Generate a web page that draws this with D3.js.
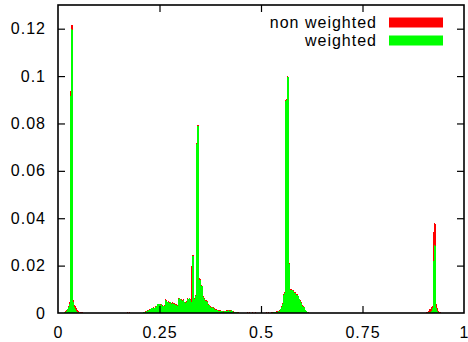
<!DOCTYPE html>
<html>
<head>
<meta charset="utf-8">
<script src="https://cdn.jsdelivr.net/npm/d3@7"></script>
<style>
  body { margin: 0; background: #fff; }
  svg text { font-family: "Liberation Sans", Arial, sans-serif; font-size: 16px; letter-spacing: 1px; fill: #000; }
</style>
</head>
<body>
<div id="app"></div>
<script>
// ----- Data -----
const binWidth = 0.0025;

const yTicks = [0, 0.02, 0.04, 0.06, 0.08, 0.1, 0.12];
const yTickLabels = ["0", "0.02", "0.04", "0.06", "0.08", "0.1", "0.12"];
const xTicks = [0, 0.25, 0.5, 0.75, 1];
const xTickLabels = ["0", "0.25", "0.5", "0.75", "1"];

const seriesNames = ["non weighted", "weighted"];
const seriesColors = ["#ff0000", "#00ff00"];

// peak near 0.03 (first bin index 5)
const peak1Start = 5;
const peak1Red = [0.0002,0.0004,0.0008,0.0012,0.0018,0.0028,0.0045,0.0938,0.1217,0.1215,0.0055,
    0.0035,0.0028,0.0022,0.0012,0.0008,0.0006,0.0005,0.0004,0.0003,0.0002];
const peak1Green = [0.0001,0.0003,0.0006,0.001,0.0016,0.0025,0.004,0.0917,0.1197,0.1195,0.0045,
    0.0025,0.0015,0.001,0.0006,0.0004,0.0003,0.0002,0.0001,0.0001,0];

// broad hump 0.21 - 0.45 with peak near 0.34 (first bin index 84)
const peak2Start = 84;
const peak2Red = [
    0.0004,0.0006,0.0008,0.001,0.0012,0.0014,0.0015,0.0018,0.0022,0.0023,
    0.0025,0.0023,0.0028,0.0031,0.004,0.0039,0.0038,0.004,0.0033,0.003,
    0.0033,0.0058,0.0055,0.0048,0.005,0.0046,0.0048,0.0043,0.0045,0.0041,
    0.0043,0.0036,0.0038,0.0033,0.0063,0.0065,0.0061,0.0058,0.0055,0.0059,
    0.0048,0.0045,0.0051,0.0063,0.0061,0.0065,0.0058,0.02,0.0246,0.0244,
    0.0065,0.0075,0.0718,0.0792,0.0793,0.0146,0.0142,0.012,0.0116,0.0072,
    0.0062,0.0054,0.0056,0.0051,0.0037,0.0035,0.0028,0.0026,0.0027,0.0025,
    0.0019,0.0017,0.0015,0.0014,0.0012,0.0011,0.0011,0.001,0.0009,0.0008,
    0.0009,0.001,0.0011,0.0013,0.0011,0.0012,0.0013,0.001,0.0008,0.0006,
    0.0005,0.0004,0.0003,0.0003,0.0002];
const peak2Green = [
    0.0003,0.0005,0.0006,0.0008,0.001,0.0012,0.0013,0.0015,0.002,0.002,
    0.0022,0.002,0.0025,0.0028,0.0038,0.0036,0.0035,0.0038,0.003,0.0028,
    0.003,0.0055,0.0052,0.0045,0.0047,0.0043,0.0045,0.004,0.0042,0.0038,
    0.004,0.0033,0.0035,0.003,0.006,0.0062,0.0058,0.0055,0.0052,0.0056,
    0.0045,0.0042,0.0048,0.006,0.0058,0.0062,0.0055,0.0045,0.0242,0.024,
    0.006,0.007,0.0712,0.0788,0.079,0.014,0.0138,0.0116,0.0112,0.0068,
    0.0058,0.005,0.0052,0.0048,0.0034,0.0032,0.0025,0.0023,0.0024,0.0023,
    0.0016,0.0014,0.0013,0.0012,0.001,0.0009,0.0009,0.0008,0.0007,0.0006,
    0.0007,0.0008,0.0009,0.0011,0.0009,0.001,0.0011,0.0008,0.0006,0.0004,
    0.0003,0.0003,0.0002,0.0002,0.0001];

// peak near 0.57 (first bin index 210)
const peak3Start = 210;
const peak3Red = [
    0.0004,0.0003,0.0005,0.0004,0.0006,0.0007,0.0008,0.001,0.0013,0.0018,
    0.0028,0.0043,0.0081,0.0088,0.0899,0.0905,0.1,0.0997,0.021,0.0101,
    0.0102,0.0099,0.0095,0.0088,0.0081,0.0079,0.0073,0.0061,0.0055,0.0045,
    0.0033,0.0029,0.0026,0.0014,0.001,0.0006,0.0003];
const peak3Green = [
    0.0002,0.0002,0.0003,0.0003,0.0004,0.0005,0.0006,0.0008,0.001,0.0015,
    0.0025,0.004,0.0078,0.0085,0.0896,0.0897,0.0998,0.0995,0.0208,0.0098,
    0.0099,0.0096,0.0092,0.0085,0.0078,0.0076,0.007,0.0058,0.0052,0.0042,
    0.003,0.0026,0.0024,0.0012,0.0008,0.0004,0.0002];

// peak near 0.92 (first bin index 362)
const peak4Start = 362;
const peak4Red = [0.0002,0.0003,0.0004,0.0008,0.0015,0.0025,0.003,0.034,0.0378,0.0376,
    0.004,0.002,0.001,0.0006,0.0003,0.0002,0.0001];
const peak4Green = [0.0001,0.0001,0.0002,0.0003,0.0006,0.001,0.002,0.022,0.0285,0.0284,
    0.002,0.0008,0.0004,0.0002,0.0001,0,0];

// scattered small non weighted counts
const strayRedBins = [68, 70, 186, 188, 191, 194, 205, 207];
const strayRedValues = [0.0004, 0.0003, 0.0005, 0.0004, 0.0006, 0.0004, 0.0005, 0.0004];

// ----- Build bins -----
function expand(start, values) {
    return values.map((v, k) => ({ bin: start + k, value: v }));
}

const redBins = [].concat(
    expand(peak1Start, peak1Red),
    expand(peak2Start, peak2Red),
    expand(peak3Start, peak3Red),
    expand(peak4Start, peak4Red),
    strayRedBins.map((b, k) => ({ bin: b, value: strayRedValues[k] }))
);
const greenBins = [].concat(
    expand(peak1Start, peak1Green),
    expand(peak2Start, peak2Green),
    expand(peak3Start, peak3Green),
    expand(peak4Start, peak4Green)
);

// ----- Main -----
const W = 468, H = 342;
const plotL = 58, plotR = 464, plotT = 5, plotB = 313;

const svg = d3.select("#app").append("svg")
    .attr("width", W)
    .attr("height", H);

const xScale = d3.scaleLinear().domain([0, 1]).range([plotL, plotR]);
const yScale = d3.scaleLinear().domain([0, 0.13]).range([plotB, plotT]);

function drawBars(data, color) {
    svg.append("g")
        .attr("shape-rendering", "crispEdges")
        .selectAll("rect")
        .data(data.filter(d => d.value > 0))
        .enter()
        .append("rect")
            .attr("x", d => xScale(d.bin * binWidth))
            .attr("width", d => xScale((d.bin + 1) * binWidth) - xScale(d.bin * binWidth))
            .attr("y", d => yScale(d.value))
            .attr("height", d => yScale(0) - yScale(d.value))
            .attr("fill", color);
}

drawBars(redBins, seriesColors[0]);
drawBars(greenBins, seriesColors[1]);

// axes (gnuplot style: ticks inward, mirrored)
const tickLen = 7;

const axisLeft = d3.axisLeft(yScale)
    .tickValues(yTicks)
    .tickFormat((d, i) => yTickLabels[i])
    .tickSizeInner(-tickLen)
    .tickSizeOuter(0)
    .tickPadding(12);
const axisRight = d3.axisRight(yScale)
    .tickValues(yTicks.slice(1))
    .tickFormat("")
    .tickSizeInner(-tickLen)
    .tickSizeOuter(0);
const axisBottom = d3.axisBottom(xScale)
    .tickValues(xTicks)
    .tickFormat((d, i) => xTickLabels[i])
    .tickSizeInner(-tickLen)
    .tickSizeOuter(0)
    .tickPadding(13.5);
const axisTop = d3.axisTop(xScale)
    .tickValues(xTicks.slice(1, -1))
    .tickFormat("")
    .tickSizeInner(-tickLen)
    .tickSizeOuter(0);

function styleAxis(g) {
    g.select(".domain").remove();
    g.selectAll(".tick line").attr("stroke", "#000").attr("stroke-width", 1.2);
    g.selectAll(".tick text")
        .attr("font-family", null)
        .attr("font-size", null)
        .attr("fill", "#000");
}

svg.append("g")
    .attr("transform", `translate(${plotL}, 0)`)
    .call(axisLeft)
    .call(styleAxis)
    .selectAll(".tick")
    .filter(d => d === 0)
    .select("line").remove();
svg.append("g")
    .attr("transform", `translate(${plotR}, 0)`)
    .call(axisRight)
    .call(styleAxis);
svg.append("g")
    .attr("transform", `translate(0, ${plotB})`)
    .call(axisBottom)
    .call(styleAxis)
    .selectAll(".tick")
    .filter(d => d === 0 || d === 1)
    .select("line").remove();
svg.append("g")
    .attr("transform", `translate(0, ${plotT})`)
    .call(axisTop)
    .call(styleAxis);

// frame
svg.append("rect")
    .attr("x", plotL)
    .attr("y", plotT)
    .attr("width", plotR - plotL)
    .attr("height", plotB - plotT)
    .attr("fill", "none")
    .attr("stroke", "#000")
    .attr("stroke-width", 1.6);

// legend
const legend = svg.append("g").attr("class", "legend");
seriesNames.forEach((name, i) => {
    const baseY = 27.5 + i * 18;
    legend.append("text")
        .attr("x", 377)
        .attr("y", baseY)
        .attr("text-anchor", "end")
        .text(name);
    legend.append("rect")
        .attr("x", 389)
        .attr("y", baseY - 10)
        .attr("width", 54)
        .attr("height", 10)
        .attr("fill", seriesColors[i]);
});
</script>
</body>
</html>
